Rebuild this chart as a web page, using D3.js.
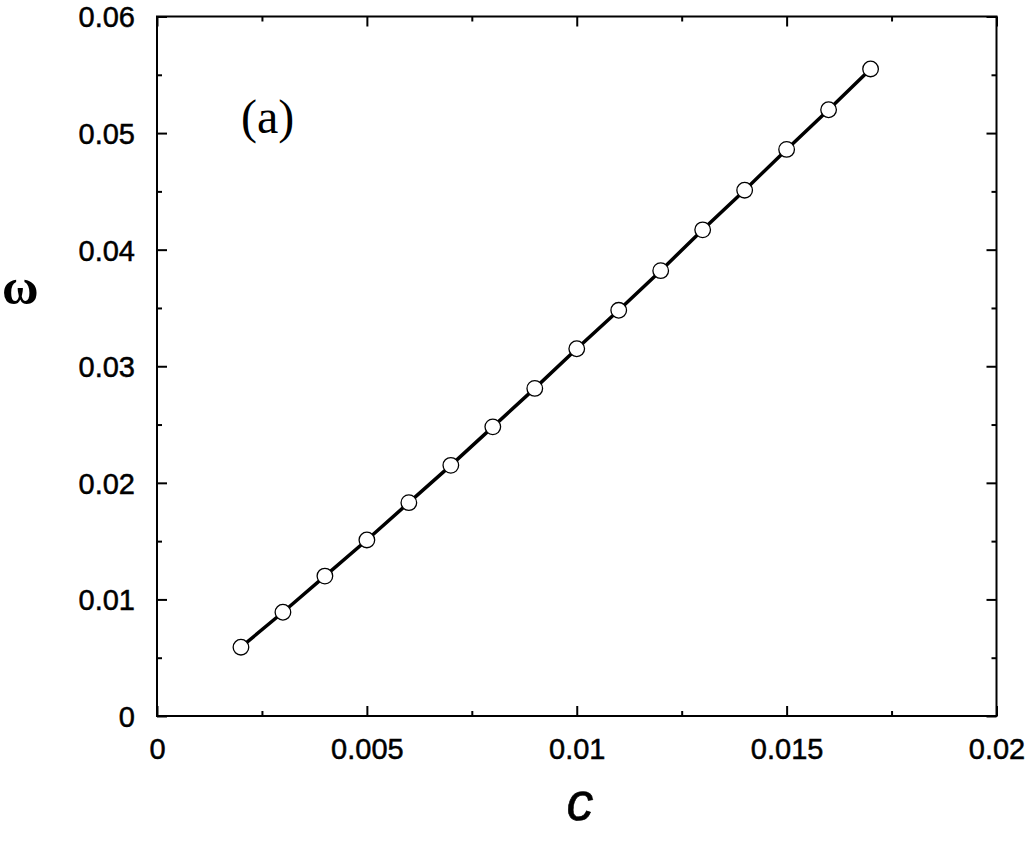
<!DOCTYPE html>
<html>
<head>
<meta charset="utf-8">
<script src="https://cdn.jsdelivr.net/npm/d3@7"></script>
<style>
  body { margin: 0; background: #fff; }
  svg { display: block; }
  .tick text { font-family: "Liberation Sans", Arial, sans-serif; font-size: 29px; fill: #000;
               stroke: #000; stroke-width: 0.5px; }
</style>
</head>
<body>
<svg id="chart" width="1027" height="858"></svg>
<script>
// concentration c and frequency omega
var cValues = [0.002, 0.003, 0.004, 0.005, 0.006, 0.007, 0.008, 0.009,
               0.010, 0.011, 0.012, 0.013, 0.014, 0.015, 0.016, 0.017];
var omegaValues = [0.0059, 0.0089, 0.0120, 0.0151, 0.0183, 0.0215, 0.0248, 0.0281,
                   0.0315, 0.0348, 0.0382, 0.0417, 0.0451, 0.0486, 0.0520, 0.0555];
var xTicks = [0, 0.005, 0.01, 0.015, 0.02];
var xTickLabels = ["0", "0.005", "0.01", "0.015", "0.02"];
var yTicks = [0, 0.01, 0.02, 0.03, 0.04, 0.05, 0.06];
var yTickLabels = ["0", "0.01", "0.02", "0.03", "0.04", "0.05", "0.06"];
var xMinor = [0.0025, 0.0075, 0.0125, 0.0175];
var yMinor = [0.005, 0.015, 0.025, 0.035, 0.045, 0.055];

var data = cValues.map((c, i) => ({c: c, w: omegaValues[i]}));

var margin = {left: 157, top: 16.5, right: 30.5, bottom: 142};
var width = 1027 - margin.left - margin.right;
var height = 858 - margin.top - margin.bottom;

var svg = d3.select('#chart');
var g = svg.append('g').attr('transform', `translate(${margin.left},${margin.top})`);

var x = d3.scaleLinear().domain([0, 0.02]).range([0, width]);
var y = d3.scaleLinear().domain([0, 0.06]).range([height, 0]);

// major ticks with labels (inward)
var xAxis = d3.axisBottom(x).tickValues(xTicks)
    .tickFormat((d, i) => xTickLabels[i]).tickSizeInner(-10).tickSizeOuter(0).tickPadding(14);
var yAxis = d3.axisLeft(y).tickValues(yTicks)
    .tickFormat((d, i) => yTickLabels[i]).tickSizeInner(-10).tickSizeOuter(0).tickPadding(22);

g.append('g').attr('transform', `translate(0,${height})`).call(xAxis)
    .call(s => s.selectAll('text').attr('dy', '1em'));
g.append('g').call(yAxis)
    .call(s => s.selectAll('text').attr('dy', '0.36em'));

// mirrored ticks on top and right, no labels
g.append('g').call(d3.axisTop(x).tickValues(xTicks).tickFormat('').tickSizeInner(-10).tickSizeOuter(0));
g.append('g').attr('transform', `translate(${width},0)`)
    .call(d3.axisRight(y).tickValues(yTicks).tickFormat('').tickSizeInner(-10).tickSizeOuter(0));

// minor ticks
g.append('g').attr('transform', `translate(0,${height})`)
    .call(d3.axisBottom(x).tickValues(xMinor).tickFormat('').tickSizeInner(-5).tickSizeOuter(0));
g.append('g').call(d3.axisTop(x).tickValues(xMinor).tickFormat('').tickSizeInner(-5).tickSizeOuter(0));
g.append('g').call(d3.axisLeft(y).tickValues(yMinor).tickFormat('').tickSizeInner(-5).tickSizeOuter(0));
g.append('g').attr('transform', `translate(${width},0)`)
    .call(d3.axisRight(y).tickValues(yMinor).tickFormat('').tickSizeInner(-5).tickSizeOuter(0));

g.selectAll('.domain').remove();
g.selectAll('.tick line').attr('stroke', '#000').attr('stroke-width', 2);

// frame
g.append('rect')
    .attr('width', width).attr('height', height)
    .attr('fill', 'none').attr('stroke', '#000').attr('stroke-width', 2);

// line + markers
var line = d3.line().x(d => x(d.c)).y(d => y(d.w));
g.append('path').datum(data)
    .attr('d', line)
    .attr('fill', 'none').attr('stroke', '#000').attr('stroke-width', 3.5);

g.selectAll('circle').data(data).enter().append('circle')
    .attr('cx', d => x(d.c))
    .attr('cy', d => y(d.w))
    .attr('r', 7.8)
    .attr('fill', '#fff').attr('stroke', '#000').attr('stroke-width', 1.3);

// labels
svg.append('text')
    .attr('x', 580).attr('y', 820)
    .attr('text-anchor', 'middle')
    .style('font-family', '"Liberation Sans", Arial, sans-serif')
    .style('font-style', 'italic').style('font-size', '54px')
    .style('stroke', '#000').style('stroke-width', '0.6px')
    .text('c');

svg.append('text')
    .attr('x', 2).attr('y', 304)
    .style('font-family', '"Liberation Serif", "Times New Roman", serif')
    .style('font-size', '50px').style('font-weight', 'bold')
    .text('ω');

svg.append('text')
    .attr('x', 241).attr('y', 133)
    .style('font-family', '"Liberation Serif", "Times New Roman", serif')
    .style('font-size', '48px')
    .text('(a)');
</script>
</body>
</html>
